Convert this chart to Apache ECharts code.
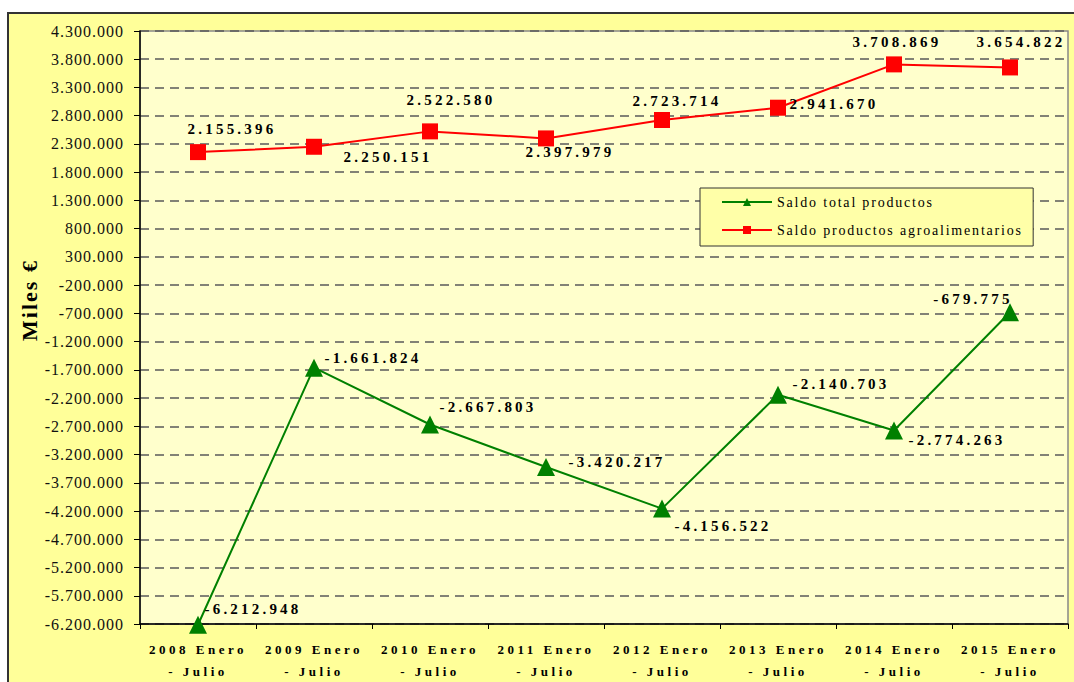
<!DOCTYPE html>
<html><head><meta charset="utf-8">
<script src="https://cdn.jsdelivr.net/npm/echarts@6/dist/echarts.min.js"></script>
<style>
html,body{margin:0;padding:0;background:#fff;}
#c{width:1074px;height:682px;}
#c text[style*="bold"][style*="15px"]{letter-spacing:3.2px;}
#c text[style*="bold"][style*="13px"]{letter-spacing:3.5px;}
#c text[style*="bold"][style*="22px"]{letter-spacing:2px;}
#c text[style*="16px"]{letter-spacing:1px;}
#c text[style*="14px"]{letter-spacing:1.8px;}
</style></head><body><div id="c"></div>
<script>
const categories = ['2008 Enero - Julio','2009 Enero - Julio','2010 Enero - Julio','2011 Enero - Julio','2012 Enero - Julio','2013 Enero - Julio','2014 Enero - Julio','2015 Enero - Julio'];
const seriesNames = ['Saldo total productos','Saldo productos agroalimentarios'];
const saldoTotal = [-6212948,-1661824,-2667803,-3420217,-4156522,-2140703,-2774263,-679775];
const saldoAgro = [2155396,2250151,2522580,2397979,2723714,2941670,3708869,3654822];
const yTicks = [-6200000,-5700000,-5200000,-4700000,-4200000,-3700000,-3200000,-2700000,-2200000,-1700000,-1200000,-700000,-200000,300000,800000,1300000,1800000,2300000,2800000,3300000,3800000,4300000];
const axisTitle = 'Miles €';

// label placement (pixel offsets from each point)
const totalLabelOffsets = [[55,-16],[59,-10],[58,-18],[71,-5],[61,17],[63,-11],[63,9],[-37,-13]];
const agroLabelOffsets = [[34,-23],[74,10],[21,-31],[24,14],[15,-19],[56,-4],[3,-22],[11,-25]];

function fmt(v){
  const s = Math.abs(v).toString().replace(/\B(?=(\d{3})+(?!\d))/g,'.');
  return (v<0?'-':'')+s;
}
const labelBase = {show:true, position:'inside', color:'#000', fontFamily:'Liberation Serif', fontWeight:'bold', fontSize:15, formatter:p=>fmt(p.value)};

const chart = echarts.init(document.getElementById('c'), null, {renderer:'svg'});
chart.setOption({
  animation:false,
  backgroundColor:'#fff',
  graphic:[
    {type:'rect', z:-100, shape:{x:8,y:13,width:1100,height:700}, style:{fill:'#FFFF99', stroke:'#333', lineWidth:2}},
    {type:'text', z:10, x:29, y:300, rotation:Math.PI/2, style:{text:axisTitle, fontFamily:'Liberation Serif', fontWeight:'bold', fontSize:22, fill:'#000', textAlign:'center', textVerticalAlign:'middle'}}
  ],
  grid:{left:140, right:6, top:31, bottom:57, show:true, backgroundColor:'#FFFFCC', borderColor:'#888', borderWidth:1.5},
  legend:{
    data:seriesNames, orient:'vertical', left:700, top:188,
    backgroundColor:'#FFFFA8', borderColor:'#333', borderWidth:1,
    padding:[7,68,9,21], itemGap:14, itemWidth:50, itemHeight:10,
    textStyle:{fontFamily:'Liberation Serif', fontSize:14, color:'#000'}
  },
  xAxis:{
    type:'category', data:categories, boundaryGap:true,
    axisLine:{onZero:false, lineStyle:{color:'#000', width:1.5}},
    axisTick:{show:true, length:5, lineStyle:{color:'#000'}},
    axisLabel:{interval:0, margin:14, color:'#000', fontFamily:'Liberation Serif', fontWeight:'bold', fontSize:13, lineHeight:22, formatter:v=>v.replace(' - ','\n- ')}
  },
  yAxis:{
    type:'value', min:-6200000, max:4300000,
    axisLine:{show:true, lineStyle:{color:'#000', width:1.5}},
    axisTick:{show:true, length:6, customValues:yTicks, lineStyle:{color:'#000'}},
    axisLabel:{customValues:yTicks, margin:16, color:'#111', fontFamily:'Liberation Serif', fontSize:16, formatter:v=>fmt(v)},
    splitLine:{show:true, lineStyle:{color:'#5a5a5a', width:1.5, type:[9,6]}}
  },
  series:[
    {name:seriesNames[0], type:'line', clip:false, data:saldoTotal.map((v,i)=>({value:v, label:{offset:totalLabelOffsets[i]}})),
     symbol:'triangle', symbolSize:18, itemStyle:{color:'#008000'}, lineStyle:{color:'#008000', width:2}, label:labelBase, z:3},
    {name:seriesNames[1], type:'line', clip:false, data:saldoAgro.map((v,i)=>({value:v, label:{offset:agroLabelOffsets[i]}})),
     symbol:'rect', symbolSize:16, itemStyle:{color:'#FF0000'}, lineStyle:{color:'#FF0000', width:2}, label:labelBase, z:3}
  ]
});
</script></body></html>
